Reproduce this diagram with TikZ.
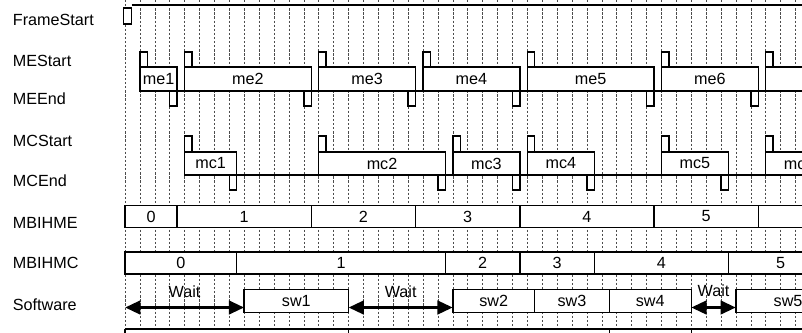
\documentclass[tikz,border=0pt]{standalone}
\usepackage{fontspec}
\setmainfont{Liberation Sans}
\usetikzlibrary{arrows.meta}
\tikzset{
	gridline/.style={dash pattern=on 2pt off 1.5pt, line width=0.5pt, black!70},
	pulse/.style={draw, fill=white, line width=1.2pt},
	sigbox/.style={draw, fill=white, line width=1.2pt, inner sep=0pt, outer sep=0pt, anchor=north west},
	rowlabel/.style={anchor=base west},
	waitarrow/.style={<->, line width=2.8pt}
}
\begin{document}
\begin{tikzpicture}[>={Triangle[length=4.6mm,width=4mm]},x=4.47mm,y=-0.3mm,font=\fontsize{13.8}{16}\selectfont]
	\useasboundingbox (-8.389,0) rectangle (45.436,332);
	\clip (-8.389,0) rectangle (45.436,332);
	%Lưới
	\foreach \k in {0,...,45} \draw[gridline] (\k,0) -- (\k,332);
	%Tên tín hiệu
	\node[rowlabel] (nFrame) at (-7.8,25.5) {FrameStart};
	\node[rowlabel] (nMEs) at (-7.8,66.5) {MEStart};
	\node[rowlabel] (nMEe) at (-7.8,104) {MEEnd};
	\node[rowlabel] (nMCs) at (-7.8,146) {MCStart};
	\node[rowlabel] (nMCe) at (-7.8,186.5) {MCEnd};
	\node[rowlabel] (nHME) at (-7.8,228) {MBIHME};
	\node[rowlabel] (nHMC) at (-7.8,268.5) {MBIHMC};
	\node[rowlabel] (nSW) at (-7.8,310.5) {Software};
	%FrameStart
	\draw[pulse] (-0.1,8) rectangle (0.45,24);
	\draw[line width=1.6pt] (0.45,5) -- (46,5);
	%Khung ME
	\draw[line width=1.2pt] (1,91) -- (46,91);
	\foreach \a/\b/\t [count=\i] in {1/3.5/me1,4/12.5/me2,13/19.5/me3,20/26.5/me4,27/35.5/me5,36/42.5/me6,43/49.5/{}}{
		\node[sigbox,minimum width={(\b-\a)*4.47mm},minimum height=7.2mm] (me\i) at (\a,67) {\t};
		\draw[pulse] (\a,52) rectangle (\a+0.5,67);
		\draw[pulse] (\b-0.5,91) rectangle (\b,106);
	}
	%Khung MC
	\draw[line width=1.2pt] (4,175) -- (46,175);
	\foreach \a/\b/\t [count=\i] in {4/7.5/mc1,13/21.5/mc2,22/26.5/mc3,27/31.5/mc4,36/40.5/mc5,43/47.5/mc6}{
		\node[sigbox,minimum width={(\b-\a)*4.47mm},minimum height=6.9mm] (mc\i) at (\a,152) {\t};
		\draw[pulse] (\a,136) rectangle (\a+0.5,152);
		\draw[pulse] (\b-0.5,175) rectangle (\b,190);
	}
	%MBIHME
	\foreach \a/\b/\t [count=\i] in {0/3.5/0,3.5/12.5/1,12.5/19.5/2,19.5/26.5/3,26.5/35.5/4,35.5/42.5/5,42.5/49.5/{}}
		\node[sigbox,minimum width={(\b-\a)*4.47mm},minimum height=6.6mm] (hme\i) at (\a,205.5) {\t};
	%MBIHMC
	\foreach \a/\b/\t [count=\i] in {0/7.5/0,7.5/21.5/1,21.5/26.5/2,26.5/31.5/3,31.5/40.5/4,40.5/47.5/5,47.5/55/{}}
		\node[sigbox,minimum width={(\b-\a)*4.47mm},minimum height=6.6mm] (hmc\i) at (\a,252) {\t};
	%Phần mềm
	\foreach \a/\b/\t in {8/15/sw1,22/27.5/sw2,27.5/32.5/sw3,32.5/38/sw4,41/48/sw5}
		\node[sigbox,minimum width={(\b-\a)*4.47mm},minimum height=6.9mm] (\t) at (\a,289.5) {\t};
	%Mũi tên Wait
	\coordinate (w0) at (0,307.5);
	\draw[waitarrow] (w0) -- (w0 -| sw1.west) node[midway,yshift=4.6mm] (wait1) {Wait};
	\draw[waitarrow] (sw1.east |- w0) -- (sw2.west |- w0) node[midway,yshift=4.6mm] (wait2) {Wait};
	\draw[waitarrow] (sw4.east |- w0) -- (sw5.west |- w0) node[midway,yshift=5mm] (wait3) {Wait};
	%Hàng dưới
	\draw[line width=1.2pt] (0,329) -- (46,329);
	\foreach \x in {0,15,32.5,38} \draw[line width=1.2pt] (\x,329) -- (\x,334);
\end{tikzpicture}
\end{document}
